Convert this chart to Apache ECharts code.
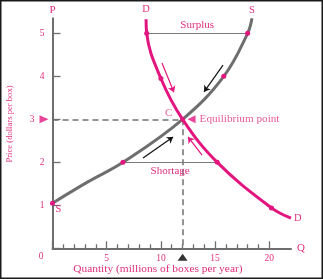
<!DOCTYPE html>
<html><head><meta charset="utf-8">
<script src="https://cdn.jsdelivr.net/npm/echarts@6/dist/echarts.min.js"></script>
<style>html,body{margin:0;padding:0;background:#fff}#c{width:323px;height:279px}</style>
</head><body><div id="c"></div>
<script>
// Supply curve (quantity, price)
const supplyQ = [0, 3.3, 6.5, 12, 15.8, 18, 18.4];
const supplyP = [1.05, 1.55, 2, 3, 4, 5, 5.35];
const supplyDots = [0, 2, 4, 5];
// Demand curve
const demandQ = [8.63, 8.69, 10, 12, 15.2, 20.2, 22];
const demandP = [5.33, 5, 3.95, 3, 2, 0.94, 0.7];
const demandDots = [1, 2, 4, 5];
// Equilibrium
const eqQ = 12, eqP = 3;
// Surplus / shortage segments
const surplus = [[8.69, 5], [18, 5]];
const shortage = [[6.5, 2], [15.2, 2]];
// Arrows
const arrowsBlack = [[[15.73, 4.26], [13.98, 3.64]], [[8.35, 2.1], [11.12, 2.59]]];
const arrowsPink = [[[10.1, 4.31], [11.2, 3.63]], [[13.8, 2.17], [12.5, 2.59]]];
// Ticks
const xTickLabels = [5, 10, 15, 20];
const yTickLabels = [1, 2, 3, 4, 5];

const PINK = '#e3157f', TPINK = '#e0307f', GRAY = '#6e6e6e', FONT = 'Liberation Serif';
const chart = echarts.init(document.getElementById('c'), null, {renderer: 'canvas'});

function curveData(qs, ps, dots, labels) {
  return qs.map((q, i) => {
    const it = {value: [q, ps[i]], symbolSize: dots.includes(i) ? 5 : 0};
    if (labels[i]) it.label = Object.assign({show: true, color: TPINK, fontFamily: FONT, fontSize: 10.5}, labels[i]);
    return it;
  });
}

chart.setOption({
  animation: false,
  graphic: [
    {type: 'rect', shape: {x: 0.5, y: 0.5, width: 322, height: 278}, style: {fill: 'none', stroke: '#1a1a1a', lineWidth: 2}, z: 100},
    {type: 'text', x: 41, y: 256, style: {text: '0', fill: TPINK, font: '9.5px "Liberation Serif"', align: 'center', verticalAlign: 'middle'}},
    {type: 'text', x: 10, y: 124, rotation: Math.PI / 2, style: {text: 'Price (dollars per box)', fill: TPINK, font: '8.6px "Liberation Serif"', align: 'center', verticalAlign: 'middle'}}
  ],
  grid: [
    {left: 52.5, top: 18.3, right: 32, bottom: 30.7, outerBoundsMode: 'none', containLabel: false},
    {left: 52.5, top: 33.3, width: 216.8, height: 215, outerBoundsMode: 'none', containLabel: false}
  ],
  xAxis: [
    {gridIndex: 0, type: 'value', min: 0, max: 22, splitLine: {show: false}, axisTick: {show: false}, axisLabel: {show: false},
     axisLine: {lineStyle: {color: GRAY, width: 2}}, name: 'Q', nameGap: 6,
     nameTextStyle: {color: TPINK, fontFamily: FONT, fontSize: 11}},
    {gridIndex: 1, type: 'value', min: 0, max: 20, interval: 5, splitLine: {show: false},
     axisLine: {show: false},
     axisTick: {show: true, inside: true, length: 7, lineStyle: {color: GRAY, width: 1.3}},
     minorTick: {show: true, splitNumber: 5, length: 4, lineStyle: {color: GRAY, width: 1.3}},
     axisLabel: {color: TPINK, fontFamily: FONT, fontSize: 9.5, margin: 5,
       formatter: v => xTickLabels.includes(v) ? String(v) : ''},
     name: 'Quantity (millions of boxes per year)', nameLocation: 'middle', nameGap: 15, nameMoveOverlap: false,
     nameTextStyle: {color: TPINK, fontFamily: FONT, fontSize: 11.4, padding: [0, 6, 0, 0]}}
  ],
  yAxis: [
    {gridIndex: 0, type: 'value', min: 0, max: 5.35, splitLine: {show: false}, axisTick: {show: false}, axisLabel: {show: false},
     axisLine: {lineStyle: {color: GRAY, width: 2}}, name: 'P', nameGap: 3,
     nameTextStyle: {color: TPINK, fontFamily: FONT, fontSize: 11, align: 'center'}},
    {gridIndex: 1, type: 'value', min: 0, max: 5, interval: 1, splitLine: {show: false},
     axisLine: {show: false},
     axisTick: {show: true, inside: true, length: 8, lineStyle: {color: GRAY, width: 1.3}},
     axisLabel: {color: TPINK, fontFamily: FONT, fontSize: 9.5, margin: 8,
       formatter: v => !yTickLabels.includes(v) ? '' : (v === 3 ? '{s|3}' : String(v)),
       rich: {s: {color: TPINK, fontFamily: FONT, fontSize: 9.5, padding: [0, 10, 0, 0]}}}}
  ],
  series: [
    {type: 'lines', coordinateSystem: 'cartesian2d', xAxisIndex: 0, yAxisIndex: 0, silent: true,
     lineStyle: {color: '#707070', width: 1.5, type: [6, 4], opacity: 1},
     data: [{coords: [[0, eqP], [eqQ, eqP]]}, {coords: [[eqQ, eqP], [eqQ, 0]]}]},
    {type: 'lines', coordinateSystem: 'cartesian2d', silent: true,
     lineStyle: {color: '#7a7a7a', width: 1, opacity: 1},
     label: {show: true, color: TPINK, fontFamily: FONT, fontSize: 11, distance: 3, opacity: 1},
     data: [
       {coords: surplus, label: {formatter: 'Surplus', position: 'insideMiddleTop'}},
       {coords: shortage, label: {formatter: 'Shortage', position: 'insideMiddleBottom'}}
     ]},
    {type: 'line', smooth: 0.4, xAxisIndex: 0, yAxisIndex: 0, symbol: 'circle', showSymbol: true,
     lineStyle: {color: GRAY, width: 3}, itemStyle: {color: PINK}, z: 3,
     data: curveData(supplyQ, supplyP, supplyDots, {
       0: {formatter: 'S', position: 'inside', offset: [6, 6]},
       6: {formatter: 'S', position: 'top', distance: 3}
     })},
    {type: 'line', smooth: 0.4, xAxisIndex: 0, yAxisIndex: 0, symbol: 'circle', showSymbol: true,
     lineStyle: {color: PINK, width: 3}, itemStyle: {color: PINK}, z: 4,
     data: curveData(demandQ, demandP, demandDots, {
       0: {formatter: 'D', position: 'top', distance: 4},
       6: {formatter: 'D', position: 'right', distance: 3}
     })},
    {type: 'lines', coordinateSystem: 'cartesian2d', silent: true, symbol: ['none', 'arrow'], symbolSize: 6,
     lineStyle: {color: '#111', width: 1.2, opacity: 1}, data: arrowsBlack.map(c => ({coords: c}))},
    {type: 'lines', coordinateSystem: 'cartesian2d', silent: true, symbol: ['none', 'arrow'], symbolSize: 6,
     lineStyle: {color: PINK, width: 1.2, opacity: 1}, data: arrowsPink.map(c => ({coords: c}))},
    {type: 'scatter', xAxisIndex: 0, yAxisIndex: 0, z: 6, symbolSize: 5, itemStyle: {color: PINK},
     data: [{value: [eqQ, eqP], label: {show: true, formatter: 'C', position: 'inside', offset: [-14, -6], color: TPINK, fontFamily: FONT, fontSize: 11}}]},
    {type: 'scatter', xAxisIndex: 0, yAxisIndex: 0, z: 6, symbolSize: 0,
     data: [{value: [eqQ, eqP], label: {show: true, formatter: 'Equilibrium point', position: 'right', distance: 17, color: TPINK, fontFamily: FONT, fontSize: 11.2}}]},
    {type: 'scatter', xAxisIndex: 0, yAxisIndex: 0, z: 6, symbol: 'triangle', itemStyle: {color: PINK},
     data: [
       {value: [eqQ, eqP], symbolSize: [8, 8], symbolRotate: 90, symbolOffset: [9, 0]},
       {value: [0, eqP], symbolSize: [8, 9], symbolRotate: -90, symbolOffset: [-8.5, 0]}
     ]},
    {type: 'scatter', xAxisIndex: 0, yAxisIndex: 0, z: 6, symbol: 'triangle', itemStyle: {color: '#000'},
     data: [{value: [eqQ, 0], symbolSize: [10, 7], symbolOffset: [0, 9]}]}
  ]
});
</script>
</body></html>
